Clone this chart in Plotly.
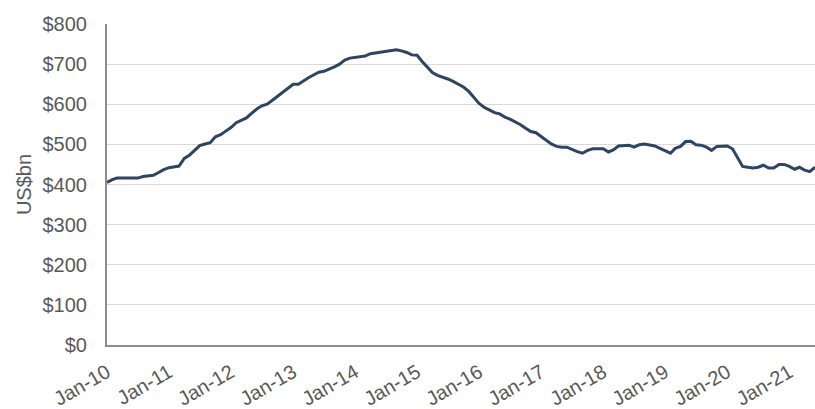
import pandas as pd
import plotly.graph_objects as go

# Monthly series, Jan-2010 .. Jun-2021 (US$bn)
months = pd.date_range("2010-01-01", "2021-06-01", freq="MS")
values = [
    405, 412, 416, 416, 416, 416, 416, 420, 421, 423, 430, 437,
    442, 444, 446, 465, 473, 485, 497, 501, 504, 519, 524, 533,
    542, 554, 559, 566, 577, 588, 596, 600, 610, 620, 630, 640,
    650, 650, 658, 666, 673, 680, 682, 687, 693, 700, 710, 715,
    717, 718, 720, 726, 728, 731, 733, 734, 736, 733, 729, 723,
    722, 706, 692, 679, 672, 668, 663, 657, 650, 643, 632, 616,
    602, 592, 585, 579, 576, 568, 563, 557, 549, 540, 532, 529,
    519, 510, 501, 495, 493, 493, 487, 482, 478, 485, 489, 489,
    489, 481, 486, 496, 497, 498, 493, 499, 501, 498, 496, 490,
    484, 478, 490, 495, 507, 508, 499, 498, 493, 485, 495, 496,
    496, 489, 468, 445, 443, 441, 443, 448, 441, 441, 450, 450,
    445, 438, 443, 436, 432, 443,
]
tick_dates = pd.date_range("2010-01-01", "2021-01-01", freq="YS")
tick_labels = [d.strftime("%b-%y") for d in tick_dates]

grey = "#595959"

fig = go.Figure(
    go.Scatter(
        x=months,
        y=values,
        mode="lines",
        line=dict(color="#2F4462", width=3),
        hoverinfo="x+y",
    )
)

fig.update_layout(
    width=815,
    height=409,
    margin=dict(l=107, r=0, t=24, b=64),
    paper_bgcolor="white",
    plot_bgcolor="white",
    showlegend=False,
    font=dict(family="Liberation Sans, Arial, sans-serif", size=20, color=grey),
)

fig.update_xaxes(
    range=[months[0], months[-1]],
    tickvals=tick_dates,
    ticktext=tick_labels,
    tickangle=-30,
    showgrid=False,
    showline=True,
    linecolor="#8C8C8C",
    linewidth=2,
    ticks="outside",
    ticklen=6,
    tickcolor="white",
    automargin=False,
    tickfont=dict(size=20, color=grey),
)

fig.update_yaxes(
    range=[0, 800],
    dtick=100,
    tickprefix="$",
    showgrid=True,
    gridcolor="#D9D9D9",
    gridwidth=1,
    showline=True,
    linecolor="#8C8C8C",
    linewidth=2,
    zeroline=False,
    ticks="",
    ticklabelstandoff=14,
    tickfont=dict(size=20, color=grey),
    title=dict(text="US$bn", font=dict(size=20, color=grey), standoff=6),
)

fig.write_html("out.html")
